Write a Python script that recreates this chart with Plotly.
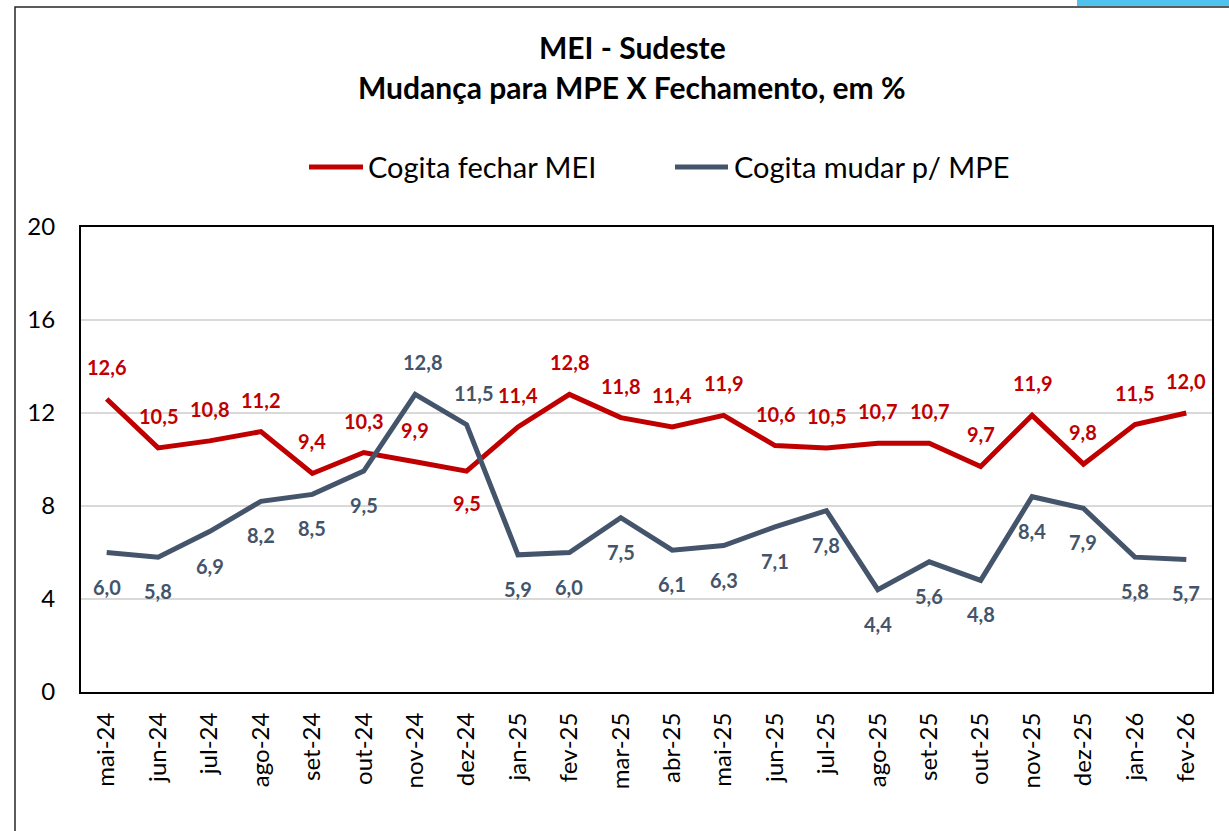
import plotly.graph_objects as go

# Monthly survey results, MEI - Sudeste (%)
meses = ["mai-24", "jun-24", "jul-24", "ago-24", "set-24", "out-24", "nov-24", "dez-24",
         "jan-25", "fev-25", "mar-25", "abr-25", "mai-25", "jun-25", "jul-25", "ago-25",
         "set-25", "out-25", "nov-25", "dez-25", "jan-26", "fev-26"]
fechar_mei = [12.6, 10.5, 10.8, 11.2, 9.4, 10.3, 9.9, 9.5, 11.4, 12.8, 11.8, 11.4,
              11.9, 10.6, 10.5, 10.7, 10.7, 9.7, 11.9, 9.8, 11.5, 12.0]
mudar_mpe = [6.0, 5.8, 6.9, 8.2, 8.5, 9.5, 12.8, 11.5, 5.9, 6.0, 7.5, 6.1,
             6.3, 7.1, 7.8, 4.4, 5.6, 4.8, 8.4, 7.9, 5.8, 5.7]
y_ticks = [0, 4, 8, 12, 16, 20]

nome_fechar = "Cogita fechar MEI"
nome_mudar = "Cogita mudar p/ MPE"
cor_fechar = "#C00000"
cor_mudar = "#44546A"
FONT = "Lato"

W, H = 1229, 831
L, R, T, B = 81, 17, 227, 139
pw, ph = W - L - R, H - T - B


def px(x):
    return (x - L) / pw


def py(y):
    return (H - B - y) / ph


fig = go.Figure()
fig.add_trace(go.Scatter(x=meses, y=fechar_mei, mode="lines", name=nome_fechar,
                         line=dict(color=cor_fechar, width=5), showlegend=False))
fig.add_trace(go.Scatter(x=meses, y=mudar_mpe, mode="lines", name=nome_mudar,
                         line=dict(color=cor_mudar, width=5), showlegend=False))


def fmt(v):
    return f"{v:.1f}".replace(".", ",")


# value labels: red above the line, blue below (with a few exceptions)
red_below = {"dez-24"}
blue_above = {"nov-24", "dez-24"}
for m, v in zip(meses, fechar_mei):
    shift = -32 if m in red_below else 32
    fig.add_annotation(x=m, y=v, text=f"<b>{fmt(v)}</b>", showarrow=False, yshift=shift,
                       xanchor="center", yanchor="middle",
                       font=dict(family=FONT, size=20, color=cor_fechar))
for m, v in zip(meses, mudar_mpe):
    shift = 32 if m in blue_above else -34
    xs = 7 if m in blue_above else 0
    fig.add_annotation(x=m, y=v, text=f"<b>{fmt(v)}</b>", showarrow=False, yshift=shift,
                       xshift=xs, xanchor="center", yanchor="middle",
                       font=dict(family=FONT, size=20, color=cor_mudar))

# title
for yy, txt in [(47, "<b>MEI - Sudeste</b>"), (87, "<b>Mudança para MPE X Fechamento, em %</b>")]:
    fig.add_annotation(x=px(632), y=py(yy), xref="paper", yref="paper", showarrow=False,
                       xanchor="center", yanchor="middle", text=txt,
                       font=dict(family=FONT, size=30, color="black"))

# legend
shapes = []
for x0, x1, xt, cor, nome in [(309, 363, 366, cor_fechar, nome_fechar),
                              (675, 728, 732, cor_mudar, nome_mudar)]:
    shapes.append(dict(type="line", xref="paper", yref="paper", x0=px(x0), x1=px(x1),
                       y0=py(167), y1=py(167), line=dict(color=cor, width=5)))
    fig.add_annotation(x=px(xt), y=py(166), xref="paper", yref="paper", showarrow=False,
                       xanchor="left", yanchor="middle", text=nome,
                       font=dict(family=FONT, size=29, color="black"))

# outer chart frame
shapes.append(dict(type="rect", xref="paper", yref="paper", x0=px(15), x1=px(1240),
                   y0=py(845), y1=py(7), line=dict(color="#262626", width=1.5), layer="below"))
shapes.append(dict(type="rect", xref="paper", yref="paper", x0=px(1077), x1=px(1235),
                   y0=py(6), y1=py(-5), line=dict(width=0), fillcolor="#4FC3EE"))

fig.update_layout(
    width=W, height=H,
    margin=dict(l=L, r=R, t=T, b=B),
    paper_bgcolor="white", plot_bgcolor="white",
    shapes=shapes,
    font=dict(family=FONT, color="black"),
)
fig.update_xaxes(type="category", range=[-0.5, len(meses) - 0.5], tickangle=-90,
                 showline=True, linecolor="black", linewidth=2, mirror=True,
                 showgrid=False, ticks="", tickfont=dict(family=FONT, size=24, color="black"),
                 ticklabelstandoff=9)
fig.update_yaxes(range=[0, 20], tickvals=y_ticks, showline=True, linecolor="black",
                 linewidth=2, mirror=True, showgrid=True, gridcolor="#D9D9D9", gridwidth=1.5,
                 zeroline=False, ticks="", tickfont=dict(family=FONT, size=24, color="black"),
                 ticklabelstandoff=19)

fig.write_html("out.html")
